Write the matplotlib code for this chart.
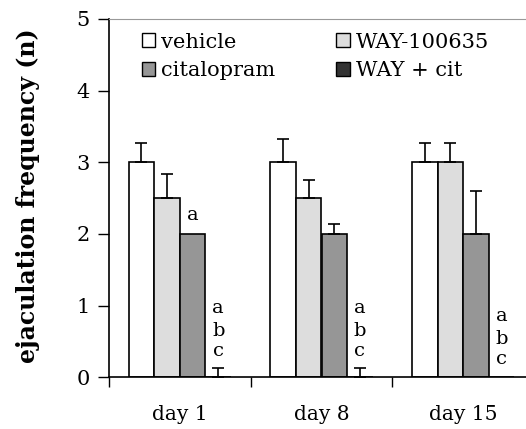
import matplotlib
matplotlib.use("Agg")
import matplotlib.pyplot as plt
import numpy as np
from matplotlib.patches import Patch

days = ["day 1", "day 8", "day 15"]
groups = ["vehicle", "WAY-100635", "citalopram", "WAY + cit"]
means = {
    "vehicle":    [3.0, 3.0, 3.0],
    "WAY-100635": [2.5, 2.5, 3.0],
    "citalopram": [2.0, 2.0, 2.0],
    "WAY + cit":  [0.0, 0.0, 0.0],
}
sems = {
    "vehicle":    [0.27, 0.33, 0.27],
    "WAY-100635": [0.34, 0.26, 0.27],
    "citalopram": [0.0, 0.14, 0.60],
    "WAY + cit":  [0.13, 0.13, 0.0],
}
colors = ["#ffffff", "#dddddd", "#969696", "#333333"]
sig_cit = ["a", "", ""]
sig_letters = ["a", "b", "c"]
sig_waycit_y = [[0.97, 0.64, 0.37], [0.97, 0.64, 0.37], [0.85, 0.53, 0.25]]

plt.rcParams['font.family'] = ['DejaVu Serif']

fig = plt.figure(figsize=(5.26, 4.29), dpi=100)
ax = fig.add_axes([109/526, 51.7/429, 425/526, 358.3/429])

x = np.arange(len(days))
w = 0.181
for i, g in enumerate(groups):
    pos = x + (i - 1.5) * w
    ax.bar(pos, means[g], width=w, color=colors[i], edgecolor='black', linewidth=1.2, zorder=2)
    for p, m, s in zip(pos, means[g], sems[g]):
        if s > 0:
            ax.errorbar(p, m, yerr=[[0], [s]], fmt='none', ecolor='black', elinewidth=1.2,
                        capsize=4, capthick=1.2, zorder=3)

for j in range(len(days)):
    if sig_cit[j]:
        ax.text(x[j] + 0.5 * w, 2.27, sig_cit[j], ha='center', va='center', fontsize=14)
for j in range(len(days)):
    for letter, yy in zip(sig_letters, sig_waycit_y[j]):
        ax.text(x[j] + 1.5 * w, yy, letter, ha='center', va='center', fontsize=14)

ax.set_xlim(-0.5, 2.5)
ax.set_ylim(0, 5)
ax.set_yticks([0, 1, 2, 3, 4, 5])
ax.set_xticks([-0.5, 0.5, 1.5])
ax.set_xticklabels([])
ax.set_xticks(x, minor=True)
ax.set_xticklabels(days, minor=True, fontsize=14.5)
ax.tick_params(axis='x', which='minor', length=0, pad=20)
ax.tick_params(axis='x', which='major', length=7, width=1, direction='out')
ax.tick_params(axis='y', length=8, width=1, direction='out', labelsize=15, pad=6)
ax.spines['top'].set_color('#999999')
ax.spines['right'].set_visible(False)
for s in ['left', 'bottom']:
    ax.spines[s].set_linewidth(1.2)

order = [0, 2, 1, 3]
handles = [Patch(facecolor=colors[k], edgecolor='black', linewidth=1) for k in order]
labels = [groups[k] for k in order]
ax.legend(handles, labels, ncol=2, loc='upper left', bbox_to_anchor=(0.045, 1.0),
          frameon=False, fontsize=15, handlelength=0.65, handleheight=0.65,
          handletextpad=0.3, columnspacing=2.9, labelspacing=0.45, borderaxespad=0.25)

fig.text(28/526, 1 - 196/429, "ejaculation frequency (n)", rotation=90, ha='center', va='center',
         fontsize=17, fontweight='bold')

fig.savefig("out.png", dpi=100)
